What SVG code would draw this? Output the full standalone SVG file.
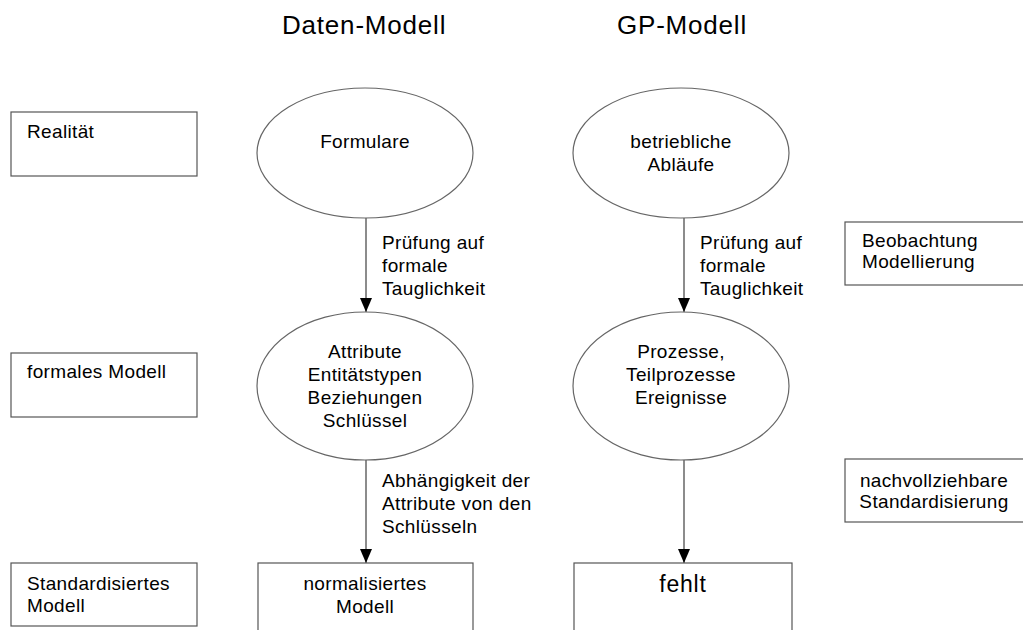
<svg xmlns="http://www.w3.org/2000/svg" width="1023" height="630" viewBox="0 0 1023 630">
<style>
text{font-family:"Liberation Sans",Arial,sans-serif;font-size:19px;letter-spacing:0.35px;fill:#000}
.t{font-size:26px;letter-spacing:0.8px}
.c{text-anchor:middle}
.box{fill:#fff;stroke:#555;stroke-width:1.2}
.ell{fill:#fff;stroke:#666;stroke-width:1.2}
.ln{stroke:#666;stroke-width:1.5;fill:none}
</style>
<defs>
<marker id="ah" viewBox="0 0 14 12" refX="14" refY="6" markerWidth="14" markerHeight="12" markerUnits="userSpaceOnUse" orient="auto">
<path d="M0,0 L14,6 L0,12 Z" fill="#000"/>
</marker>
</defs>
<rect width="1023" height="630" fill="#fff"/>
<g id="titles">
<text class="t" x="282" y="34">Daten-Modell</text>
<text class="t" x="617" y="34">GP-Modell</text>
</g>
<g id="connectors">
<line class="ln" x1="366" y1="218" x2="366" y2="312" marker-end="url(#ah)"/>
<line class="ln" x1="366" y1="460" x2="366" y2="563" marker-end="url(#ah)"/>
<line class="ln" x1="684" y1="218" x2="684" y2="312" marker-end="url(#ah)"/>
<line class="ln" x1="684" y1="460" x2="684" y2="563" marker-end="url(#ah)"/>
<text x="382" y="249">Prüfung auf</text>
<text x="382" y="272">formale</text>
<text x="382" y="295">Tauglichkeit</text>
<text x="700" y="249">Prüfung auf</text>
<text x="700" y="272">formale</text>
<text x="700" y="295">Tauglichkeit</text>
<text x="382" y="487">Abhängigkeit der</text>
<text x="382" y="510">Attribute von den</text>
<text x="382" y="533">Schlüsseln</text>
</g>
<g id="realitaet"><rect class="box" x="11" y="112" width="186" height="64"/><text x="27" y="138">Realität</text></g>
<g id="formales"><rect class="box" x="11" y="353" width="186" height="64"/><text x="27" y="378">formales Modell</text></g>
<g id="standardisiertes"><rect class="box" x="11" y="563" width="186" height="63"/><text x="27" y="590">Standardisiertes</text><text x="27" y="612">Modell</text></g>
<g id="beobachtung"><rect class="box" x="845" y="222" width="190" height="63"/><text x="862" y="247">Beobachtung</text><text x="862" y="268">Modellierung</text></g>
<g id="nachvollziehbar"><rect class="box" x="845" y="459" width="190" height="63"/><text class="c" x="934" y="487">nachvollziehbare</text><text class="c" x="934" y="508">Standardisierung</text></g>
<g id="formulare"><ellipse class="ell" cx="365" cy="153" rx="108" ry="65"/><text class="c" x="365" y="148">Formulare</text></g>
<g id="ablaeufe"><ellipse class="ell" cx="681" cy="153" rx="108" ry="65"/><text class="c" x="681" y="148">betriebliche</text><text class="c" x="681" y="171">Abläufe</text></g>
<g id="attribute"><ellipse class="ell" cx="365" cy="386" rx="108" ry="74"/><text class="c" x="365" y="358">Attribute</text><text class="c" x="365" y="381">Entitätstypen</text><text class="c" x="365" y="404">Beziehungen</text><text class="c" x="365" y="427">Schlüssel</text></g>
<g id="prozesse"><ellipse class="ell" cx="681" cy="386" rx="108" ry="74"/><text class="c" x="681" y="358">Prozesse,</text><text class="c" x="681" y="381">Teilprozesse</text><text class="c" x="681" y="404">Ereignisse</text></g>
<g id="normalisiert"><rect class="box" x="258" y="563" width="215" height="80"/><text class="c" x="365" y="590">normalisiertes</text><text class="c" x="365" y="613">Modell</text></g>
<g id="fehlt"><rect class="box" x="574" y="563" width="218" height="80"/><text class="c" x="683" y="592" style="font-size:23px;letter-spacing:0.8px">fehlt</text></g>
</svg>
